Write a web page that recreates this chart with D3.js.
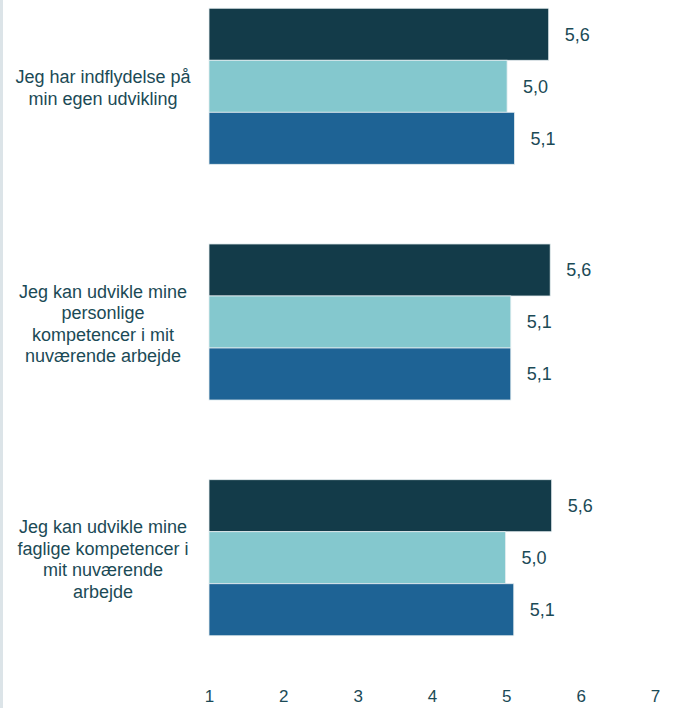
<!DOCTYPE html>
<html>
<head>
<meta charset="utf-8">
<script src="https://cdn.jsdelivr.net/npm/d3@7"></script>
<style>
  html, body { margin: 0; padding: 0; background: #ffffff; }
  svg { display: block; }
</style>
</head>
<body>
<script>
const categories = [
  "Jeg har indflydelse på min egen udvikling",
  "Jeg kan udvikle mine personlige kompetencer i mit nuværende arbejde",
  "Jeg kan udvikle mine faglige kompetencer i mit nuværende arbejde"
];
const categoryLines = [
  ["Jeg har indflydelse på", "min egen udvikling"],
  ["Jeg kan udvikle mine", "personlige", "kompetencer i mit", "nuværende arbejde"],
  ["Jeg kan udvikle mine", "faglige kompetencer i", "mit nuværende", "arbejde"]
];
const seriesNames = ["Serie 1", "Serie 2", "Serie 3"];
const series1 = [5.57, 5.59, 5.61];
const series2 = [5.01, 5.06, 4.99];
const series3 = [5.11, 5.06, 5.10];
const ticks = [1, 2, 3, 4, 5, 6, 7];
const colors = ["#133b49", "#84c8ce", "#1e6395"];

const W = 676, H = 708;
const textColor = "#1b4a56";
const font = "'Liberation Sans', Arial, sans-serif";

const svg = d3.select("body").append("svg").attr("width", W).attr("height", H);

// left strip
svg.append("rect").attr("x", 0).attr("y", 0).attr("width", 3).attr("height", H).attr("fill", "#dce4e8");

const x = d3.scaleLinear().domain([1, 7]).range([209, 655]);
const y0 = d3.scaleBand().domain(categories).range([0, 644]).paddingInner(0.338).paddingOuter(0.035);
const y1 = d3.scaleBand().domain(seriesNames).range([0, y0.bandwidth()]);

const data = categories.map((c, i) => ({
  cat: c, lines: categoryLines[i],
  vals: [series1[i], series2[i], series3[i]]
}));

const fmt = v => d3.format(".1f")(v).replace(".", ",");

const g = svg.selectAll("g.grp").data(data).join("g")
  .attr("class", "grp")
  .attr("transform", d => `translate(0,${y0(d.cat)})`);

g.selectAll("rect").data(d => d.vals.map((v, j) => ({ v, s: seriesNames[j], j }))).join("rect")
  .attr("x", x(1))
  .attr("y", d => y1(d.s))
  .attr("width", d => x(d.v) - x(1))
  .attr("height", y1.bandwidth())
  .attr("fill", d => colors[d.j])
  .attr("stroke", "#e6eef0")
  .attr("stroke-width", 0.8);

g.selectAll("text.val").data(d => d.vals.map((v, j) => ({ v, s: seriesNames[j], j }))).join("text")
  .attr("class", "val")
  .attr("x", d => x(d.v) + 16)
  .attr("y", d => y1(d.s) + y1.bandwidth() / 2)
  .attr("dy", "0.35em")
  .attr("font-family", font)
  .attr("font-size", 18)
  .attr("fill", textColor)
  .text(d => fmt(d.v));

// category labels
const lh = 21.5;
g.append("text")
  .attr("text-anchor", "middle")
  .attr("font-family", font)
  .attr("font-size", 18)
  .attr("fill", textColor)
  .each(function(d) {
    const t = d3.select(this);
    const n = d.lines.length;
    const cy = y0.bandwidth() / 2 + 1.5;
    d.lines.forEach((ln, k) => {
      t.append("tspan")
        .attr("x", 103)
        .attr("y", cy + (k - (n - 1) / 2) * lh)
        .attr("dy", "0.35em")
        .text(ln);
    });
  });

// x axis
const axis = d3.axisBottom(x).tickValues(ticks).tickSize(0).tickFormat(d3.format("d"));
const ax = svg.append("g").attr("transform", "translate(0,687)").call(axis);
ax.select(".domain").remove();
ax.selectAll("text")
  .attr("font-family", font)
  .attr("font-size", 17)
  .attr("fill", textColor);
</script>
</body>
</html>
